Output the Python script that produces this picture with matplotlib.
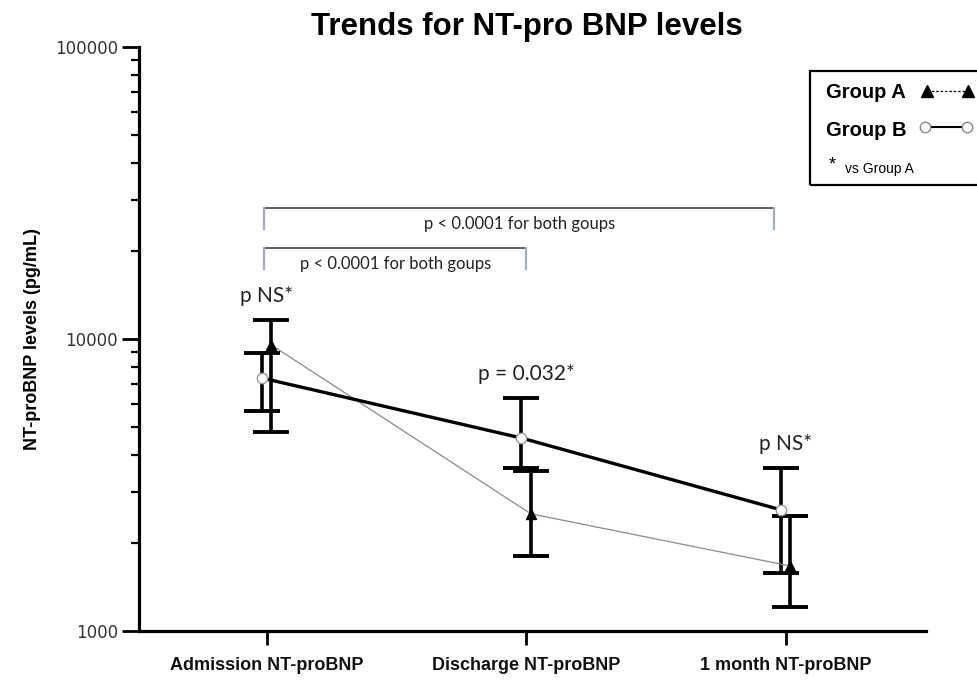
import matplotlib
matplotlib.use('Agg')
import matplotlib.pyplot as plt
import numpy as np
from matplotlib.lines import Line2D
from matplotlib.patches import Rectangle

# NT-proBNP per time point, centre value with lower / upper whisker ends
categories = ['Admission NT-proBNP', 'Discharge NT-proBNP', '1 month NT-proBNP']
group_a = [9540, 2520, 1670]
group_a_low = [4800, 1810, 1210]
group_a_high = [11640, 3530, 2480]
group_b = [7350, 4580, 2600]
group_b_low = [5670, 3615, 1580]
group_b_high = [8950, 6280, 3615]

p_labels = ['p NS*', 'p = 0.032*', 'p NS*']
brackets = [(0, 2, 'p < 0.0001 for both goups'), (0, 1, 'p < 0.0001 for both goups')]
bracket_levels = [28100, 20500]

fig = plt.figure(figsize=(9.77, 6.81), dpi=100)
ax = fig.add_axes([0.1423, 0.0734, 0.8055, 0.8576])

x = np.arange(len(categories))
xa = x + 0.017
xb = x - 0.019

a = np.array(group_a)
b = np.array(group_b)
a_err = [a - np.array(group_a_low), np.array(group_a_high) - a]
b_err = [b - np.array(group_b_low), np.array(group_b_high) - b]

ax.errorbar(xb, b, yerr=b_err, fmt='none', ecolor='black', elinewidth=2.6,
            capsize=13, capthick=2.8, zorder=2)
ax.errorbar(xa, a, yerr=a_err, fmt='none', ecolor='black', elinewidth=2.6,
            capsize=13, capthick=2.8, zorder=2)

ax.plot(xa, a, color='#8a8a8a', lw=0.9, zorder=3)
ax.plot(xb, b, color='black', lw=2.4, zorder=3)
ax.plot(xa, a, ls='none', marker='^', ms=7.5, mfc='black', mec='black', zorder=4)
ax.plot(xb, b, ls='none', marker='o', ms=7.5, mfc='white', mec='#999999',
        mew=1.0, zorder=4)

ax.set_yscale('log')
ax.set_ylim(1000, 100000)
ax.set_xlim(-0.493, 2.54)

ax.spines['top'].set_visible(False)
ax.spines['right'].set_visible(False)
ax.spines['left'].set_linewidth(2.3)
ax.spines['bottom'].set_linewidth(2.3)

ax.set_yticks([1000, 10000, 100000])
ax.set_yticklabels(['1000', '10000', '100000'], fontsize=12, color='#333333',
                   family='DejaVu Sans')
ax.tick_params(axis='y', which='major', length=12, width=2.0, pad=3)
ax.tick_params(axis='y', which='minor', length=6, width=1.6)
ax.yaxis.set_minor_formatter(matplotlib.ticker.NullFormatter())

ax.set_xticks(x)
ax.set_xticklabels(categories, fontsize=13, fontweight='bold', color='#111111',
                   family='Liberation Sans')
ax.tick_params(axis='x', length=10, width=2.0, pad=9)

ax.set_ylabel('NT-proBNP levels (pg/mL)', fontsize=13, fontweight='bold',
              family='Liberation Sans', labelpad=10)
fig.text(0.539, 0.96, 'Trends for NT-pro BNP levels', ha='center', va='center',
         fontsize=22.5, fontweight='bold', family='Liberation Sans')

# p-value labels above the upper whisker at each time point
for i, lab in enumerate(p_labels):
    top = max(group_a_high[i], group_b_high[i])
    ax.annotate(lab, (x[i], top), xytext=(0, 17), textcoords='offset points',
                ha='center', va='center', fontsize=15, family='Lato',
                color='#222222')

# comparison brackets
for (i, j, lab), level in zip(brackets, bracket_levels):
    left = x[i] - 0.01
    right = x[j] + (0.0 if j == 1 else -0.045)
    drop = level * 0.85
    ax.plot([left, right], [level, level], color='#333333', lw=1.1, zorder=1)
    ax.plot([left, left], [level, drop], color='#a4adc0', lw=1.6, zorder=1)
    ax.plot([right, right], [level, drop], color='#a4adc0', lw=1.6, zorder=1)
    ax.text((left + right) / 2, level * 0.88, lab, ha='center', va='center',
            fontsize=12, family='Lato', color='#222222')

# hand-built key box in the top-right corner
fig.patches.append(Rectangle((0.829, 0.728), 0.2, 0.168, transform=fig.transFigure,
                             fill=False, edgecolor='black', lw=1.6))
fig.text(0.845, 0.864, 'Group A', ha='left', va='center', fontsize=14.5,
         fontweight='bold', family='Liberation Sans')
fig.text(0.845, 0.809, 'Group B', ha='left', va='center', fontsize=14.5,
         fontweight='bold', family='Liberation Sans')
fig.text(0.848, 0.758, '*', ha='left', va='center', fontsize=13,
         family='Liberation Sans')
fig.text(0.865, 0.752, 'vs Group A', ha='left', va='center', fontsize=10,
         family='Liberation Sans')
fig.lines.append(Line2D([0.949, 0.991], [0.866, 0.866], transform=fig.transFigure,
                        color='black', lw=0.9, ls=(0, (2, 1.5)), marker='^',
                        ms=8, mfc='black', mec='black'))
fig.lines.append(Line2D([0.947, 0.990], [0.813, 0.813], transform=fig.transFigure,
                        color='black', lw=1.5, marker='o', ms=7.5, mfc='white',
                        mec='#888888', mew=1.0))

fig.savefig('out.png', dpi=100)
